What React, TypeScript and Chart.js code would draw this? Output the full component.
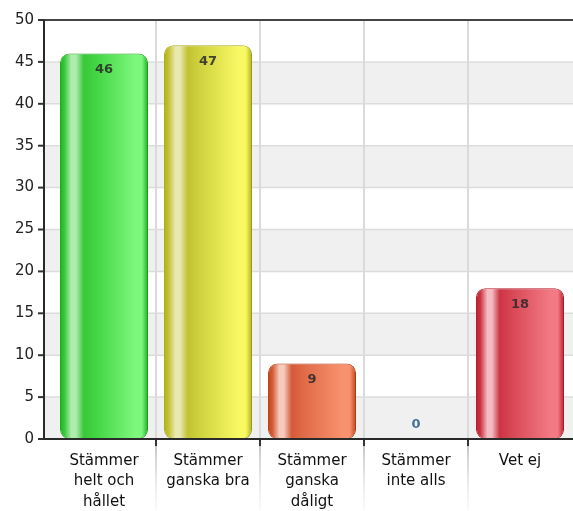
import React, { useEffect, useRef } from 'react';
import { Chart, registerables } from 'chart.js';

Chart.register(...registerables);

const categories: (string | string[])[] = [
  ['Stämmer', 'helt och', 'hållet'],
  ['Stämmer', 'ganska bra'],
  ['Stämmer', 'ganska', 'dåligt'],
  ['Stämmer', 'inte alls'],
  'Vet ej',
];
const values = [46, 47, 9, 0, 18];
const yMin = 0;
const yMax = 50;
const yStep = 5;

const edgeColors = ['#1fb01f', '#b0b01c', '#c04418', '#bb1e2e', '#bb1e2e'];
const darkColors = ['#38c838', '#c2c232', '#d45a38', '#cc3444', '#cc3444'];
const shineColors = ['#b0ecb0', '#e8e8b0', '#f6cabc', '#f4bcc2', '#f4bcc2'];
const midColors = ['#42d442', '#cfd23e', '#e06a48', '#d84654', '#d84654'];
const lightColors = ['#7cf87c', '#f8f862', '#f8926e', '#f27a84', '#f27a84'];

const BAR_PCT = 0.846;
const FONT = '"DejaVu Sans", Verdana, sans-serif';

const backdropPlugin = {
  id: 'backdrop',
  beforeDatasetsDraw(chart: any) {
    const { ctx, chartArea, scales } = chart;
    const y = scales.y;
    const x = scales.x;
    const axisX = chartArea.left - 8;
    const right = chart.width;
    ctx.save();
    for (let v = yMin; v < yMax; v += yStep * 2) {
      const y0 = y.getPixelForValue(v);
      const y1 = y.getPixelForValue(v + yStep);
      ctx.fillStyle = '#f0f0f0';
      ctx.fillRect(axisX, y1, right - axisX, y0 - y1);
    }
    ctx.strokeStyle = '#dcdcdc';
    ctx.lineWidth = 1.5;
    for (let v = yMin + yStep; v < yMax; v += yStep) {
      const py = y.getPixelForValue(v);
      ctx.beginPath();
      ctx.moveTo(axisX, py);
      ctx.lineTo(right, py);
      ctx.stroke();
    }
    ctx.strokeStyle = '#dadada';
    ctx.lineWidth = 2;
    for (let i = 0; i < categories.length - 1; i++) {
      const bx = (x.getPixelForValue(i) + x.getPixelForValue(i + 1)) / 2;
      ctx.beginPath();
      ctx.moveTo(bx, chartArea.top);
      ctx.lineTo(bx, chartArea.bottom);
      ctx.stroke();
    }
    ctx.restore();
  },
  beforeDatasetDraw(chart: any) {
    const ctx = chart.ctx;
    ctx.save();
    ctx.shadowColor = 'rgba(0,0,0,0.16)';
    ctx.shadowOffsetX = 2;
    ctx.shadowOffsetY = 2;
    ctx.shadowBlur = 4;
  },
  afterDatasetDraw(chart: any) {
    chart.ctx.restore();
  },
  afterDatasetsDraw(chart: any) {
    const { ctx, chartArea, scales } = chart;
    const y = scales.y;
    const x = scales.x;
    const axisX = chartArea.left - 8;
    const right = chart.width;
    ctx.save();
    for (let i = 0; i < categories.length - 1; i++) {
      const bx = Math.round((x.getPixelForValue(i) + x.getPixelForValue(i + 1)) / 2);
      const g = ctx.createLinearGradient(0, chartArea.bottom, 0, chart.height);
      g.addColorStop(0, 'rgba(150,150,150,0.8)');
      g.addColorStop(1, 'rgba(200,200,200,0.1)');
      ctx.strokeStyle = g;
      ctx.lineWidth = 1.5;
      ctx.beginPath();
      ctx.moveTo(bx, chartArea.bottom + 6);
      ctx.lineTo(bx, chart.height);
      ctx.stroke();
      ctx.strokeStyle = '#333';
      ctx.lineWidth = 2;
      ctx.beginPath();
      ctx.moveTo(bx, chartArea.bottom);
      ctx.lineTo(bx, chartArea.bottom + 7);
      ctx.stroke();
    }
    ctx.strokeStyle = '#333';
    ctx.lineWidth = 2;
    for (let v = yMin; v <= yMax; v += yStep) {
      const py = y.getPixelForValue(v);
      ctx.beginPath();
      ctx.moveTo(axisX - 6, py);
      ctx.lineTo(axisX, py);
      ctx.stroke();
    }
    ctx.strokeStyle = '#444';
    ctx.lineWidth = 2;
    ctx.beginPath();
    ctx.moveTo(axisX, chartArea.top);
    ctx.lineTo(right, chartArea.top);
    ctx.stroke();
    ctx.strokeStyle = '#2a2a2a';
    ctx.beginPath();
    ctx.moveTo(axisX, chartArea.top);
    ctx.lineTo(axisX, chartArea.bottom + 1);
    ctx.stroke();
    ctx.beginPath();
    ctx.moveTo(axisX, chartArea.bottom);
    ctx.lineTo(right, chartArea.bottom);
    ctx.stroke();

    const meta = chart.getDatasetMeta(0);
    ctx.font = `bold 13px ${FONT}`;
    ctx.textAlign = 'center';
    ctx.textBaseline = 'middle';
    meta.data.forEach((el: any, i: number) => {
      const v = values[i];
      if (v > 0) {
        ctx.fillStyle = 'rgba(40,40,40,0.85)';
        ctx.fillText(String(v), el.x, el.y + 16);
      } else {
        ctx.fillStyle = '#44719c';
        ctx.fillText(String(v), el.x, el.y - 14);
      }
    });
    ctx.restore();
  },
};

function barGradient(ctx: any) {
  const i = ctx.dataIndex;
  const chart = ctx.chart;
  if (i === undefined || !chart.chartArea || !chart.scales.x) return '#888';
  const xs = chart.scales.x;
  const cw = xs.width / categories.length;
  const w = cw * BAR_PCT;
  const cx = xs.getPixelForValue(i);
  const g = chart.ctx.createLinearGradient(cx - w / 2, 0, cx + w / 2, 0);
  g.addColorStop(0, edgeColors[i]);
  g.addColorStop(0.05, darkColors[i]);
  g.addColorStop(0.13, shineColors[i]);
  g.addColorStop(0.18, shineColors[i]);
  g.addColorStop(0.27, darkColors[i]);
  g.addColorStop(0.4, midColors[i]);
  g.addColorStop(0.85, lightColors[i]);
  g.addColorStop(0.93, lightColors[i]);
  g.addColorStop(1, edgeColors[i]);
  return g;
}

export default function App() {
  const ref = useRef<HTMLCanvasElement | null>(null);
  useEffect(() => {
    document.body.style.margin = '0';
    if (!ref.current) return;
    const chart = new Chart(ref.current, {
      type: 'bar',
      data: {
        labels: categories as any,
        datasets: [
          {
            data: values,
            backgroundColor: barGradient as any,
            borderColor: edgeColors,
            borderWidth: 1,
            borderRadius: 9,
            borderSkipped: false,
            categoryPercentage: 1,
            barPercentage: BAR_PCT,
          },
        ],
      },
      options: {
        responsive: false,
        animation: false,
        layout: { padding: { top: 20, right: 1, left: 0, bottom: 0 } },
        plugins: { legend: { display: false }, tooltip: { enabled: false } },
        scales: {
          x: {
            grid: { display: false, drawTicks: false },
            border: { display: false },
            afterFit: (s: any) => {
              s.height = 72;
              s.paddingLeft = 0;
              s.paddingRight = 0;
            },
            ticks: {
              padding: 12,
              color: '#111',
              maxRotation: 0,
              autoSkip: false,
              font: { family: FONT, size: 15, lineHeight: 1.35 },
            },
          },
          y: {
            min: yMin,
            max: yMax,
            grid: { display: false, drawTicks: false },
            border: { display: false },
            afterFit: (s: any) => {
              s.width = 52;
              s.paddingTop = 0;
              s.paddingBottom = 0;
            },
            ticks: {
              stepSize: yStep,
              padding: 18,
              color: '#222',
              font: { family: FONT, size: 15 },
            },
          },
        },
      },
      plugins: [backdropPlugin],
    });
    return () => chart.destroy();
  }, []);
  return (
    <div style={{ width: 573, height: 511 }}>
      <canvas ref={ref} width={573} height={511} />
    </div>
  );
}
